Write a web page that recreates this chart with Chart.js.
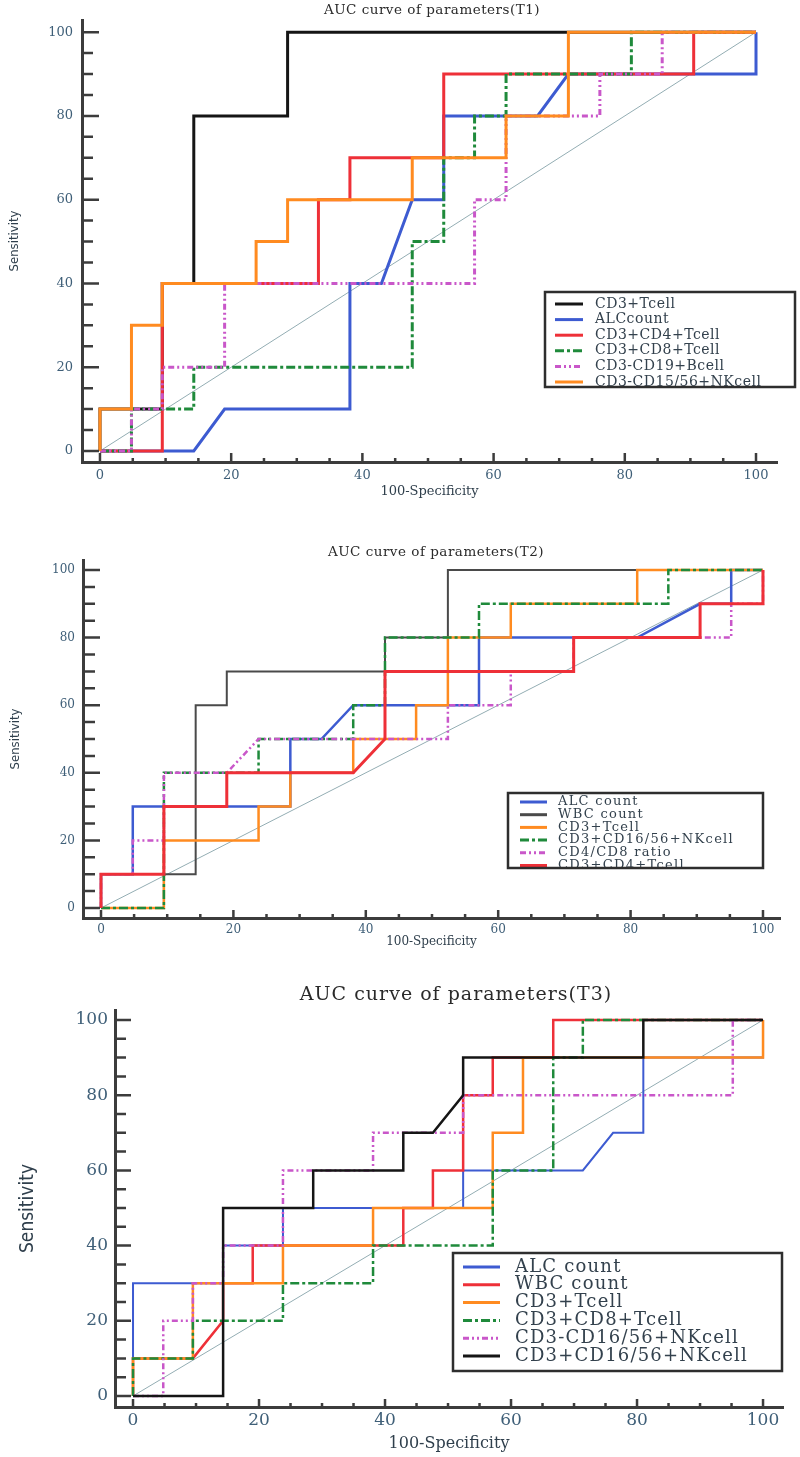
<!DOCTYPE html>
<html>
<head>
<meta charset="utf-8">
<script src="https://cdn.jsdelivr.net/npm/chart.js@4.4.1/dist/chart.umd.min.js"></script>
<style>
  body { margin: 0; background: #fff; width: 800px; height: 1457px; position: relative; overflow: hidden; }
  canvas { position: absolute; left: 0; }
</style>
</head>
<body>
<canvas id="t1" width="800" height="505" style="top:0"></canvas>
<canvas id="t2" width="800" height="460" style="top:505px"></canvas>
<canvas id="t3" width="800" height="492" style="top:965px"></canvas>
<script>
// tick labels shared by all three panels (100-Specificity / Sensitivity, in %)
const axisTicks = [0, 20, 40, 60, 80, 100];
const minorStep = 5;
const diagonal = [[0, 0], [100, 100]];

// ---- T1 ----  points are [100-Specificity, Sensitivity]
const t1Labels = ['CD3+Tcell', 'ALCcount', 'CD3+CD4+Tcell', 'CD3+CD8+Tcell', 'CD3-CD19+Bcell', 'CD3-CD15/56+NKcell'];
const t1Cd3T = [[0,0],[0,10],[9.5,10],[9.5,40],[14.3,40],[14.3,80],[28.6,80],[28.6,100],[100,100]];
const t1Alc = [[0,0],[14.3,0],[19,10],[38.1,10],[38.1,40],[42.9,40],[47.6,60],[52.4,60],[52.4,80],[66.7,80],[71.4,90],[100,90],[100,100]];
const t1Cd4 = [[0,0],[9.5,0],[9.5,40],[33.3,40],[33.3,60],[38.1,60],[38.1,70],[52.4,70],[52.4,90],[90.5,90],[90.5,100],[100,100]];
const t1Cd8 = [[0,0],[4.8,0],[4.8,10],[14.3,10],[14.3,20],[47.6,20],[47.6,50],[52.4,50],[52.4,70],[57.1,70],[57.1,80],[61.9,80],[61.9,90],[81,90],[81,100],[100,100]];
const t1Cd19 = [[0,0],[4.8,0],[4.8,10],[9.5,10],[9.5,20],[19,20],[19,40],[57.1,40],[57.1,60],[61.9,60],[61.9,80],[76.2,80],[76.2,90],[85.7,90],[85.7,100],[100,100]];
const t1Nk = [[0,0],[0,10],[4.8,10],[4.8,30],[9.5,30],[9.5,40],[23.8,40],[23.8,50],[28.6,50],[28.6,60],[47.6,60],[47.6,70],[61.9,70],[61.9,80],[71.4,80],[71.4,100],[100,100]];

// ---- T2 ----
const t2Labels = ['ALC count', 'WBC count', 'CD3+Tcell', 'CD3+CD16/56+NKcell', 'CD4/CD8 ratio', 'CD3+CD4+Tcell'];
const t2Alc = [[0,0],[0,10],[4.8,10],[4.8,30],[28.6,30],[28.6,50],[33.3,50],[38.1,60],[57.1,60],[57.1,80],[81,80],[90.5,90],[95.2,90],[95.2,100],[100,100]];
const t2Wbc = [[0,0],[9.5,0],[9.5,10],[14.3,10],[14.3,60],[19,60],[19,70],[42.9,70],[42.9,80],[52.4,80],[52.4,100],[100,100]];
const t2Cd3T = [[0,0],[9.5,0],[9.5,20],[23.8,20],[23.8,30],[28.6,30],[28.6,40],[38.1,40],[38.1,50],[47.6,50],[47.6,60],[52.4,60],[52.4,80],[61.9,80],[61.9,90],[81,90],[81,100],[100,100]];
const t2Nk = [[0,0],[9.5,0],[9.5,40],[23.8,40],[23.8,50],[38.1,50],[38.1,60],[42.9,60],[42.9,80],[57.1,80],[57.1,90],[85.7,90],[85.7,100],[100,100]];
const t2Ratio = [[0,0],[0,10],[4.8,10],[4.8,20],[9.5,20],[9.5,40],[19,40],[23.8,50],[52.4,50],[52.4,60],[61.9,60],[61.9,70],[71.4,70],[71.4,80],[95.2,80],[95.2,90],[100,90],[100,100]];
const t2Cd4 = [[0,0],[0,10],[9.5,10],[9.5,30],[19,30],[19,40],[38.1,40],[42.9,50],[42.9,70],[71.4,70],[71.4,80],[90.5,80],[90.5,90],[100,90],[100,100]];

// ---- T3 ----
const t3Labels = ['ALC count', 'WBC count', 'CD3+Tcell', 'CD3+CD8+Tcell', 'CD3-CD16/56+NKcell', 'CD3+CD16/56+NKcell'];
const t3Alc = [[0,0],[0,30],[14.3,30],[14.3,40],[23.8,40],[23.8,50],[52.4,50],[52.4,60],[71.4,60],[76.2,70],[81,70],[81,90],[100,90],[100,100]];
const t3Wbc = [[0,0],[0,10],[9.5,10],[14.3,20],[14.3,30],[19,30],[19,40],[42.9,40],[42.9,50],[47.6,50],[47.6,60],[52.4,60],[52.4,80],[57.1,80],[57.1,90],[66.7,90],[66.7,100],[100,100]];
const t3Cd3T = [[0,0],[0,10],[9.5,10],[9.5,30],[23.8,30],[23.8,40],[38.1,40],[38.1,50],[57.1,50],[57.1,70],[61.9,70],[61.9,90],[100,90],[100,100]];
const t3Cd8 = [[0,0],[0,10],[9.5,10],[9.5,20],[23.8,20],[23.8,30],[38.1,30],[38.1,40],[57.1,40],[57.1,60],[66.7,60],[66.7,90],[71.4,90],[71.4,100],[100,100]];
const t3NkNeg = [[0,0],[4.8,0],[4.8,20],[9.5,20],[9.5,30],[14.3,30],[14.3,40],[23.8,40],[23.8,60],[38.1,60],[38.1,70],[52.4,70],[52.4,80],[95.2,80],[95.2,100],[100,100]];
const t3NkPos = [[0,0],[14.3,0],[14.3,50],[28.6,50],[28.6,60],[42.9,60],[42.9,70],[47.6,70],[52.4,80],[52.4,90],[81,90],[81,100],[100,100]];

// line styles
const DASHDOT = [9, 3, 3, 3];
const DASHDOTDOT = [6, 3, 2, 3, 2, 3];
const st = {
  black: { color: '#151515', dash: [] },
  gray: { color: '#4a4a4a', dash: [] },
  blue: { color: '#3d5bd1', dash: [] },
  red: { color: '#ee3038', dash: [] },
  green: { color: '#1f8a3b', dash: DASHDOT },
  purple: { color: '#c957c9', dash: DASHDOTDOT },
  orange: { color: '#ff8b20', dash: [] }
};

const serif = '"DejaVu Serif", "Liberation Serif", serif';
const narrow = '"Liberation Sans Narrow", "DejaVu Sans Condensed", "DejaVu Sans", sans-serif';

const decor = {
  id: 'rocDecor',
  afterDraw(chart, args, o) {
    const { ctx, chartArea: a, scales: { x, y } } = chart;
    ctx.save();
    // inward tick marks
    ctx.strokeStyle = '#3c3c3c';
    ctx.lineWidth = o.tickWidth;
    ctx.beginPath();
    for (let v = 0; v <= 100; v += minorStep) {
      const major = v % 20 === 0;
      const py = y.getPixelForValue(v);
      ctx.moveTo(a.left, py);
      ctx.lineTo(a.left + (major ? o.yTick[0] : o.yTick[1]), py);
      const px = x.getPixelForValue(v);
      ctx.moveTo(px, a.bottom);
      ctx.lineTo(px, a.bottom - (major ? o.xTick[0] : o.xTick[1]));
    }
    ctx.stroke();

    // panel title
    ctx.fillStyle = '#2a2a2a';
    ctx.font = o.titleFont;
    ctx.letterSpacing = o.titleSpacing;
    ctx.textAlign = 'center';
    ctx.textBaseline = 'middle';
    ctx.fillText(o.title, o.titleX, o.titleY);

    // legend box
    const L = o.legend;
    ctx.fillStyle = '#fff';
    ctx.fillRect(L.x, L.y, L.w, L.h);
    ctx.save();
    ctx.beginPath();
    ctx.rect(L.x, L.y, L.w, L.h);
    ctx.clip();
    ctx.font = L.font;
    ctx.letterSpacing = L.spacing;
    ctx.textAlign = 'left';
    ctx.textBaseline = 'middle';
    chart.data.datasets.forEach((ds, i) => {
      if (ds.isRef) return;
      const ry = L.row0 + i * L.rowH;
      ctx.strokeStyle = ds.borderColor;
      ctx.lineWidth = L.sampleW;
      ctx.setLineDash(ds.borderDash);
      ctx.beginPath();
      ctx.moveTo(L.s0, ry);
      ctx.lineTo(L.s1, ry);
      ctx.stroke();
      ctx.setLineDash([]);
      ctx.fillStyle = '#33414d';
      ctx.fillText(ds.label, L.tx, ry);
    });
    ctx.restore();
    ctx.strokeStyle = '#2e2e2e';
    ctx.lineWidth = L.border;
    ctx.strokeRect(L.x, L.y, L.w, L.h);
    ctx.restore();
  }
};

function rocChart(id, cfg) {
  const n = cfg.series.length;
  const datasets = cfg.series.map((pts, i) => ({
    label: cfg.labels[i],
    data: pts.map(p => ({ x: p[0], y: p[1] })),
    borderColor: cfg.styles[i].color,
    borderDash: cfg.styles[i].dash,
    borderWidth: cfg.widths[i],
    pointRadius: 0,
    tension: 0,
    fill: false,
    order: n - i
  }));
  datasets.push({
    label: '', isRef: true,
    data: diagonal.map(p => ({ x: p[0], y: p[1] })),
    borderColor: '#93adb3', borderDash: [], borderWidth: 1,
    pointRadius: 0, fill: false, order: n + 1
  });

  const tickFont = { family: serif, size: cfg.tickSize };
  new Chart(document.getElementById(id), {
    type: 'line',
    data: { datasets },
    options: {
      responsive: false,
      animation: false,
      events: [],
      layout: { padding: cfg.pad },
      plugins: {
        legend: { display: false },
        tooltip: { enabled: false },
        rocDecor: cfg.decor
      },
      scales: {
        x: {
          type: 'linear', min: cfg.xRange[0], max: cfg.xRange[1],
          afterFit: s => { s.height = cfg.xH; },
          afterBuildTicks: s => { s.ticks = axisTicks.map(v => ({ value: v })); },
          grid: { display: false, drawTicks: false },
          border: { color: '#3c3c3c', width: cfg.axisW },
          ticks: { font: tickFont, color: '#3f5f78', padding: cfg.xTickPad, maxRotation: 0, autoSkip: false },
          title: { display: true, text: '100-Specificity', font: { family: serif, size: cfg.xTitleSize }, color: '#2f3f4c', padding: { bottom: cfg.xTitlePad } }
        },
        y: {
          type: 'linear', min: cfg.yRange[0], max: cfg.yRange[1],
          afterFit: s => { s.width = cfg.yW; },
          afterBuildTicks: s => { s.ticks = axisTicks.map(v => ({ value: v })); },
          grid: { display: false, drawTicks: false },
          border: { color: '#3c3c3c', width: cfg.axisW },
          ticks: { font: tickFont, color: '#3f5f78', padding: cfg.yTickPad, autoSkip: false },
          title: { display: true, text: 'Sensitivity', font: { family: narrow, size: cfg.yTitleSize }, color: '#2f3f4c', padding: { top: cfg.yTitlePad } }
        }
      }
    },
    plugins: [decor]
  });
}

rocChart('t1', {
  series: [t1Cd3T, t1Alc, t1Cd4, t1Cd8, t1Cd19, t1Nk],
  labels: t1Labels,
  styles: [st.black, st.blue, st.red, st.green, st.purple, st.orange],
  widths: [3, 3, 3, 3, 3, 3],
  pad: { top: 20, left: 0, right: 23, bottom: 0 },
  xRange: [-2.74, 103.2], yRange: [-2.63, 102.9],
  xH: 43, yW: 82, axisW: 3,
  tickSize: 13, xTickPad: 6, yTickPad: 9,
  xTitleSize: 13, xTitlePad: 6, yTitleSize: 13, yTitlePad: 7,
  decor: {
    tickWidth: 2.5, yTick: [17, 11], xTick: [9, 4],
    title: 'AUC curve of parameters(T1)', titleFont: '13.5px ' + serif, titleSpacing: '0.5px', titleX: 432, titleY: 10,
    legend: { x: 545, y: 292, w: 250, h: 95, row0: 304, rowH: 15.6, s0: 555, s1: 583, tx: 595, font: '14px ' + serif, spacing: '0.5px', sampleW: 3, border: 2.5 }
  }
});

rocChart('t2', {
  series: [t2Alc, t2Wbc, t2Cd3T, t2Nk, t2Ratio, t2Cd4],
  labels: t2Labels,
  styles: [st.blue, st.gray, st.orange, st.green, st.purple, st.red],
  widths: [2.5, 2, 2.5, 2.5, 2.5, 3],
  pad: { top: 55, left: 0, right: 20, bottom: 0 },
  xRange: [-2.72, 102.57], yRange: [-2.96, 102.96],
  xH: 47, yW: 83, axisW: 3,
  tickSize: 12, xTickPad: 5, yTickPad: 8,
  xTitleSize: 12, xTitlePad: 16, yTitleSize: 13, yTitlePad: 8,
  decor: {
    tickWidth: 2.5, yTick: [17, 12], xTick: [8, 4],
    title: 'AUC curve of parameters(T2)', titleFont: '13.5px ' + serif, titleSpacing: '0.5px', titleX: 436, titleY: 47,
    legend: { x: 508, y: 288, w: 255, h: 75, row0: 297, rowH: 12.7, s0: 520, s1: 547, tx: 558, font: '13px ' + serif, spacing: '1.3px', sampleW: 3, border: 2.5 }
  }
});

rocChart('t3', {
  series: [t3Alc, t3Wbc, t3Cd3T, t3Cd8, t3NkNeg, t3NkPos],
  labels: t3Labels,
  styles: [st.blue, st.red, st.orange, st.green, st.purple, st.black],
  widths: [2, 2.5, 2.5, 2.5, 2.5, 2.5],
  pad: { top: 45, left: 0, right: 17, bottom: 0 },
  xRange: [-2.86, 103.17], yRange: [-2.93, 102.66],
  xH: 50, yW: 115, axisW: 3,
  tickSize: 17, xTickPad: 3, yTickPad: 7,
  xTitleSize: 16, xTitlePad: 4, yTitleSize: 19, yTitlePad: 17,
  decor: {
    tickWidth: 2.5, yTick: [16, 11], xTick: [8, 4],
    title: 'AUC curve of parameters(T3)', titleFont: '19px ' + serif, titleSpacing: '1px', titleX: 456, titleY: 30,
    legend: { x: 453, y: 288, w: 329, h: 118, row0: 302, rowH: 17.8, s0: 463, s1: 500, tx: 515, font: '18px ' + serif, spacing: '1.2px', sampleW: 3, border: 2.5 }
  }
});
</script>
</body>
</html>
